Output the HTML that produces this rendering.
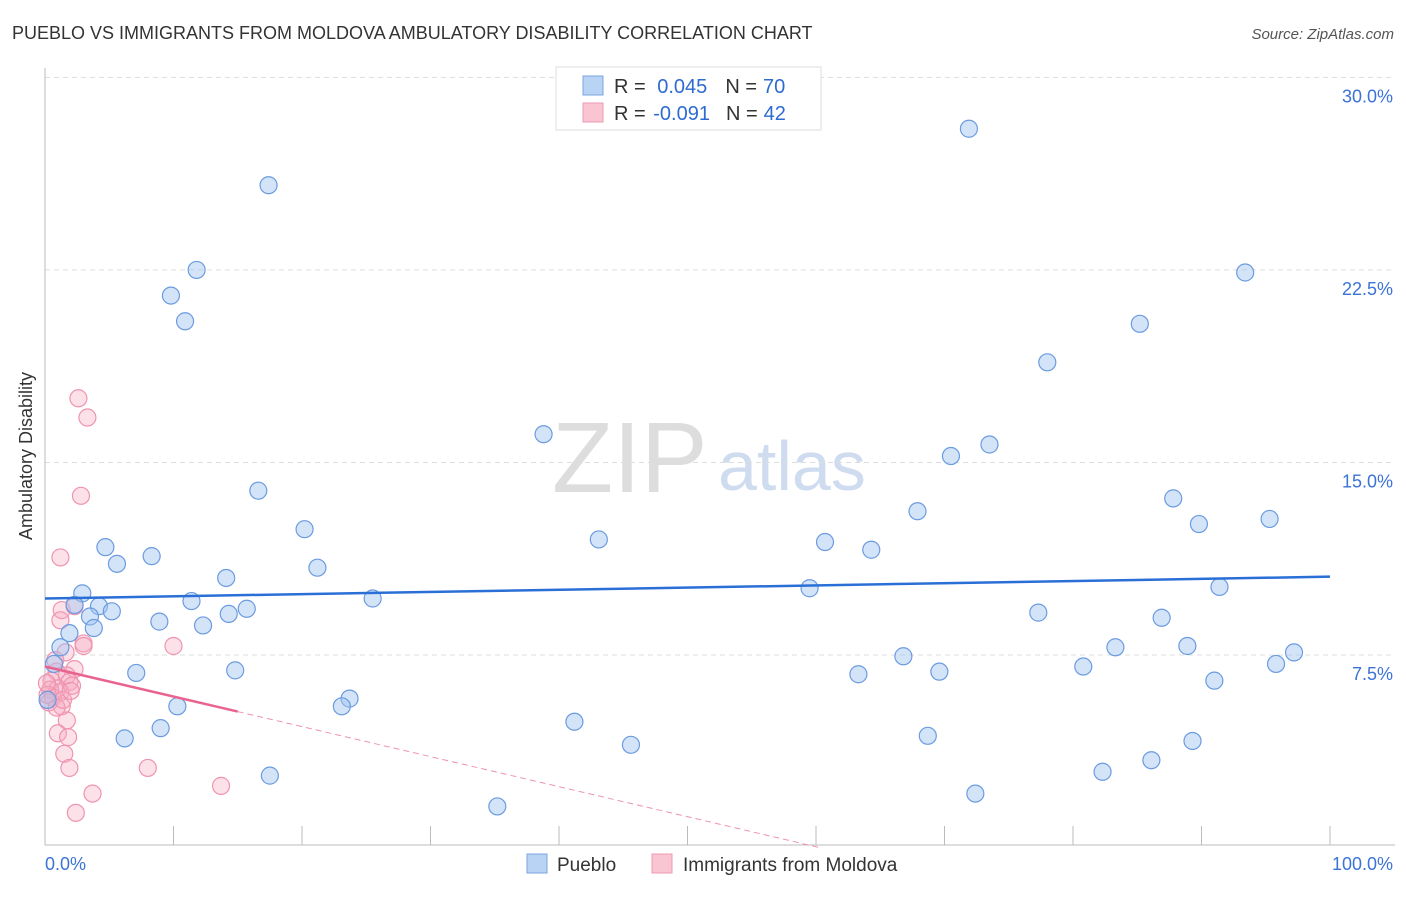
<!DOCTYPE html>
<html><head><meta charset="utf-8"><style>
body{margin:0;background:#fff;font-family:"Liberation Sans",sans-serif;}
svg text{font-family:"Liberation Sans",sans-serif;}
</style></head><body>
<svg id="c" width="1406" height="892" xmlns="http://www.w3.org/2000/svg">
<text x="12" y="39" font-size="18" fill="#333">PUEBLO VS IMMIGRANTS FROM MOLDOVA AMBULATORY DISABILITY CORRELATION CHART</text>
<text x="1394" y="39" font-size="15" fill="#555" font-style="italic" text-anchor="end">Source: ZipAtlas.com</text>
<text x="32" y="456" font-size="18" fill="#333" text-anchor="middle" transform="rotate(-90 32 456)">Ambulatory Disability</text>
<text x="552" y="492" font-size="100" fill="#ddd" font-family="Liberation Serif">ZIP</text>
<text x="718" y="490" font-size="70" fill="#cfdcf0">atlas</text>
<g id="grid"></g><g id="axes"></g><g id="pts"></g><g id="trend"></g>
<g>
<rect x="556" y="67" width="265" height="63" fill="#fff" stroke="#ddd"/>
<rect x="583" y="76" width="20" height="19" fill="#b9d3f5" stroke="#7aa5e0"/>
<rect x="583" y="103" width="20" height="19" fill="#f9c5d3" stroke="#ee9ab3"/>
<text x="614" y="93" font-size="20" fill="#333">R = <tspan fill="#2d6bd3" dx="6">0.045</tspan><tspan dx="18" fill="#333">N =</tspan><tspan fill="#2d6bd3" dx="6">70</tspan></text>
<text x="614" y="120" font-size="20" fill="#333">R = <tspan fill="#2d6bd3" dx="2">-0.091</tspan><tspan dx="16" fill="#333">N =</tspan><tspan fill="#2d6bd3" dx="6">42</tspan></text>
</g>
<g>
<rect x="527" y="854" width="20" height="19" fill="#b9d3f5" stroke="#7aa5e0"/>
<text x="557" y="871" font-size="19" fill="#333">Pueblo</text>
<rect x="652" y="854" width="20" height="19" fill="#f9c5d3" stroke="#ee9ab3"/>
<text x="683" y="871" font-size="19" fill="#333">Immigrants from Moldova</text>
</g>
</svg>
<script>
const blueX=[71.9,17.4,11.8,9.8,10.9,93.4,85.2,78.0,38.8,73.5,70.5,16.6,87.8,67.9,95.3,89.8,20.2,43.1,60.7,64.3,4.7,8.3,5.6,21.2,14.1,2.9,59.5,91.4,25.5,11.4,2.3,4.2,5.2,15.7,14.3,77.3,3.5,8.9,86.9,3.8,12.3,1.9,1.2,83.3,88.9,66.8,97.2,95.8,80.8,0.7,7.1,14.8,63.3,69.6,91.0,23.7,23.1,10.3,41.2,9.0,6.2,68.7,45.6,89.3,86.1,17.5,82.3,72.4,35.2,0.2];
const blueY=[28.0,25.8,22.5,21.5,20.5,22.4,20.4,18.9,16.1,15.7,15.25,13.9,13.6,13.1,12.8,12.6,12.4,12.0,11.9,11.6,11.7,11.35,11.05,10.9,10.5,9.9,10.1,10.15,9.7,9.6,9.45,9.4,9.2,9.3,9.1,9.15,9.0,8.8,8.95,8.55,8.65,8.35,7.8,7.8,7.85,7.45,7.6,7.15,7.05,7.15,6.8,6.9,6.75,6.85,6.5,5.8,5.5,5.5,4.9,4.65,4.25,4.35,4.0,4.15,3.4,2.8,2.95,2.1,1.6,5.75];
const pinkX=[2.6,3.3,2.8,1.2,1.3,2.3,1.2,3.0,3.0,10.0,1.6,2.3,0.9,1.7,0.5,1.9,1.0,2.1,0.4,1.2,0.6,0.3,1.3,0.9,1.7,1.0,1.8,1.5,1.9,8.0,3.7,13.7,2.4,0.2,0.15,0.8,1.4,2.0];
const pinkY=[17.5,16.75,13.7,11.3,9.25,9.4,8.85,7.95,7.85,7.85,7.6,6.95,6.85,6.7,6.5,6.45,6.2,6.3,6.15,6.05,5.85,5.65,5.5,5.45,4.95,4.45,4.3,3.65,3.1,3.1,2.1,2.4,1.35,5.95,6.4,7.3,5.75,6.1];
const yTicks=[7.5,15,22.5,30];
const yTickLabels=["7.5%","15.0%","22.5%","30.0%"];
const blueTrend=[9.7,10.55];
const pinkTrend=[7.05,-0.117];
const NS="http://www.w3.org/2000/svg";
const X=v=>45+v*12.85, Y=v=>847.5-v*25.67;
function mk(t,a,p){const e=document.createElementNS(NS,t);for(const k in a)e.setAttribute(k,a[k]);document.getElementById(p).appendChild(e);return e;}
yTicks.forEach((t,i)=>{
 const l=mk('line',{x1:45,x2:1395,y1:Y(t),y2:Y(t),stroke:'#ddd','stroke-dasharray':'5,4'},'grid');
 
 
 const tx=mk('text',{x:1393,y:Y(t)+25,'font-size':18,fill:'#3b73d6','text-anchor':'end'},'grid');
 tx.textContent=yTickLabels[i];
 
 
});
let a=mk('line',{x1:45,x2:45,y1:68,y2:845,stroke:'#bbb'},'axes');


a=mk('line',{x1:45,x2:1395,y1:845,y2:845,stroke:'#bbb'},'axes');


for(let i=1;i<=10;i++){const t=mk('line',{x1:X(i*10),x2:X(i*10),y1:826,y2:845,stroke:'#bbb'},'axes');
 
 }
let t=mk('text',{x:45,y:870,'font-size':18,fill:'#3b73d6'},'axes');t.textContent='0.0%';


t=mk('text',{x:1393,y:870,'font-size':18,fill:'#3b73d6','text-anchor':'end'},'axes');t.textContent='100.0%';


pinkX.forEach((x,i)=>{const c=mk('circle',{cx:X(x),cy:Y(pinkY[i]),r:8.5,fill:'rgba(246,170,192,0.35)',stroke:'#ef94b0','stroke-width':1.2},'pts');
 
 });
blueX.forEach((x,i)=>{const c=mk('circle',{cx:X(x),cy:Y(blueY[i]),r:8.5,fill:'rgba(160,195,240,0.45)',stroke:'#6b9be0','stroke-width':1.2},'pts');
 
 });
let l=mk('line',{x1:X(0),y1:Y(blueTrend[0]),x2:X(100),y2:Y(blueTrend[1]),stroke:'#2a6fd6','stroke-width':2.5},'trend');


const pe=-pinkTrend[0]/pinkTrend[1];
l=mk('line',{x1:X(0),y1:Y(pinkTrend[0]),x2:X(15),y2:Y(pinkTrend[0]+15*pinkTrend[1]),stroke:'#e8648f','stroke-width':2.5},'trend');


l=mk('line',{x1:X(15),y1:Y(pinkTrend[0]+15*pinkTrend[1]),x2:X(pe),y2:Y(0),stroke:'#ef94b0','stroke-width':1,'stroke-dasharray':'6,4'},'trend');


</script>
</body></html>
